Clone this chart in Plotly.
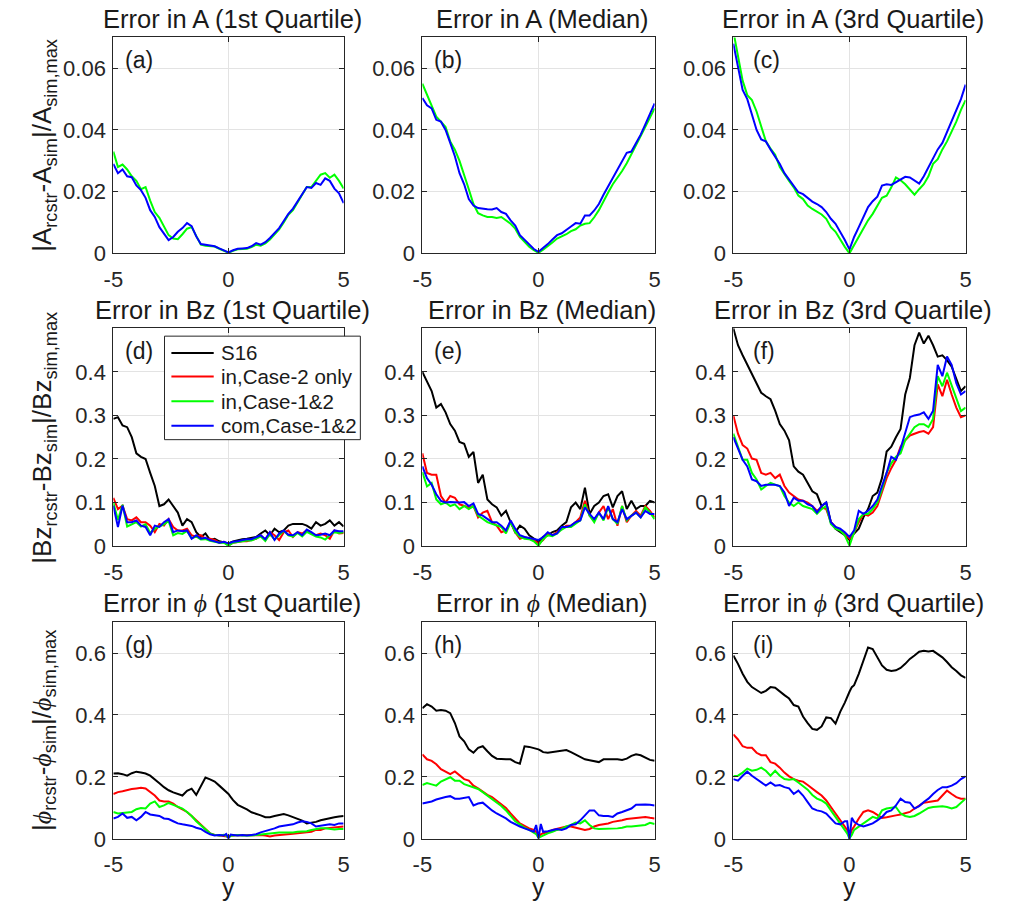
import plotly.graph_objects as go

# ---------------- data ----------------
Y51 = [-5.0, -4.8, -4.6, -4.4, -4.2,
       -4.0, -3.8, -3.6, -3.4, -3.2,
       -3.0, -2.8, -2.6, -2.4, -2.2,
       -2.0, -1.8, -1.6, -1.4, -1.2,
       -1.0, -0.8, -0.6, -0.4, -0.2,
       0.0,
       0.2, 0.4, 0.6, 0.8, 1.0,
       1.2, 1.4, 1.6, 1.8, 2.0,
       2.2, 2.4, 2.6, 2.8, 3.0,
       3.2, 3.4, 3.6, 3.8, 4.0,
       4.2, 4.4, 4.6, 4.8, 5.0]

Y53 = [-5.0, -4.8, -4.6, -4.4, -4.2,
       -4.0, -3.8, -3.6, -3.4, -3.2,
       -3.0, -2.8, -2.6, -2.4, -2.2,
       -2.0, -1.8, -1.6, -1.4, -1.2,
       -1.0, -0.8, -0.6, -0.4, -0.2,
       -0.1, 0.0, 0.1,
       0.2, 0.4, 0.6, 0.8, 1.0,
       1.2, 1.4, 1.6, 1.8, 2.0,
       2.2, 2.4, 2.6, 2.8, 3.0,
       3.2, 3.4, 3.6, 3.8, 4.0,
       4.2, 4.4, 4.6, 4.8, 5.0]

SERIES_NAMES = ["S16", "in,Case-2 only", "in,Case-1&2", "com,Case-1&2"]
SERIES_COLORS = ["#000000", "#ff0000", "#00ff00", "#0000ff"]

# --- Error in A ---
A_Q1_IN12 = [0.033, 0.028, 0.0288, 0.0272, 0.025,
             0.0235, 0.0208, 0.0215, 0.0171, 0.0134,
             0.0115, 0.0085, 0.0059, 0.0048, 0.0046,
             0.0062, 0.008, 0.0085, 0.0055, 0.0028,
             0.0025, 0.0024, 0.0022, 0.0015, 0.0008,
             0.0002,
             0.0008, 0.0013, 0.0014, 0.0015, 0.002,
             0.0028, 0.0025, 0.0032, 0.0045, 0.006,
             0.0078, 0.01, 0.0125, 0.014, 0.0165,
             0.019, 0.0215, 0.0215, 0.0235, 0.0255,
             0.026, 0.0245, 0.0255, 0.0235, 0.021]
A_Q1_COM12 = [0.029, 0.026, 0.0272, 0.025, 0.0247,
              0.022, 0.0205, 0.018, 0.014, 0.0118,
              0.0085, 0.0065, 0.0043, 0.0053, 0.007,
              0.0082, 0.0098, 0.0088, 0.0055, 0.003,
              0.0027, 0.0026, 0.0023, 0.0016, 0.0009,
              0.0003,
              0.001, 0.0015, 0.0016, 0.0017, 0.0023,
              0.0033, 0.0028, 0.0036, 0.005, 0.0065,
              0.0082, 0.0105, 0.0128, 0.0145, 0.0168,
              0.0192, 0.0215, 0.0212, 0.0228, 0.0222,
              0.0243, 0.0235, 0.021, 0.0195, 0.0163]

A_MED_IN12 = [0.055, 0.0513, 0.048, 0.0443, 0.0427,
              0.041, 0.0363, 0.0336, 0.030, 0.025,
              0.0208, 0.016, 0.013, 0.0123, 0.0118,
              0.0118, 0.0115, 0.0118, 0.0107, 0.0096,
              0.008, 0.0053, 0.0037, 0.0021, 0.001,
              0.0002,
              0.0012, 0.0023, 0.0035, 0.0048, 0.0055,
              0.0062, 0.0072, 0.0078, 0.009, 0.0096,
              0.0098, 0.0117, 0.014, 0.017, 0.0197,
              0.0224, 0.0245, 0.0267, 0.0292, 0.032,
              0.035, 0.038, 0.041, 0.0438, 0.047]
A_MED_COM12 = [0.0504, 0.048, 0.047, 0.0433, 0.0427,
               0.040, 0.0358, 0.0315, 0.026, 0.0224,
               0.0176, 0.0155, 0.0147, 0.0144, 0.0143,
               0.0142, 0.0147, 0.0134, 0.0128, 0.0107,
               0.009, 0.0059, 0.0043, 0.0027, 0.0014,
               0.0005,
               0.0017, 0.003, 0.0045, 0.0059, 0.0065,
               0.0075, 0.0087, 0.0098, 0.0096, 0.0123,
               0.0123, 0.0139, 0.016, 0.019, 0.0218,
               0.0246, 0.0272, 0.030, 0.0326, 0.033,
               0.0357, 0.0385, 0.0418, 0.045, 0.0486]

A_Q3_IN12 = [0.072, 0.0636, 0.056, 0.0513, 0.0497,
             0.046, 0.041, 0.0363, 0.034, 0.032,
             0.028, 0.0256, 0.0235, 0.0214, 0.0187,
             0.0176, 0.0155, 0.0144, 0.0134, 0.0126,
             0.0112, 0.0085, 0.007, 0.0043, 0.0021,
             0.0,
             0.0027, 0.0053, 0.008, 0.0107, 0.0128,
             0.0155, 0.018, 0.0187, 0.0214, 0.0246,
             0.0237, 0.0224, 0.0208, 0.019, 0.0208,
             0.0224, 0.025, 0.029, 0.0305, 0.0337,
             0.0363, 0.0395, 0.0427, 0.0465, 0.0497]
A_Q3_COM12 = [0.068, 0.060, 0.053, 0.050, 0.045,
              0.040, 0.0369, 0.0363, 0.0337, 0.0315,
              0.029, 0.026, 0.024, 0.022, 0.0198,
              0.0192, 0.018, 0.0168, 0.016, 0.015,
              0.0134, 0.0112, 0.0096, 0.007, 0.0043,
              0.0013,
              0.0053, 0.0085, 0.0118, 0.015, 0.0169,
              0.0184, 0.022, 0.0224, 0.0222, 0.023,
              0.024, 0.0248, 0.0246, 0.0235, 0.0226,
              0.025, 0.0278, 0.031, 0.0337, 0.0358,
              0.0395, 0.0427, 0.0465, 0.050, 0.0547]

# --- Error in Bz ---
BZ_Q1_S16 = [0.292, 0.296, 0.277, 0.273, 0.25,
             0.213, 0.205, 0.20, 0.168, 0.138,
             0.092, 0.096, 0.107, 0.092, 0.077,
             0.047, 0.062, 0.055, 0.032, 0.021,
             0.029, 0.014, 0.017, 0.011, 0.008,
             0.006,
             0.011, 0.014, 0.016, 0.017, 0.019,
             0.021, 0.029, 0.036, 0.025, 0.04,
             0.032, 0.036, 0.047, 0.051, 0.051,
             0.051, 0.047, 0.04, 0.055, 0.047,
             0.051, 0.059, 0.047, 0.055, 0.045]
BZ_Q1_IN2 = [0.111, 0.085, 0.093, 0.062, 0.059,
             0.066, 0.055, 0.055, 0.047, 0.032,
             0.051, 0.047, 0.062, 0.044, 0.036,
             0.036, 0.04, 0.025, 0.021, 0.025,
             0.017, 0.017, 0.014, 0.008, 0.01,
             0.002,
             0.008, 0.01, 0.011, 0.011, 0.014,
             0.017, 0.025, 0.014, 0.032, 0.025,
             0.014, 0.032, 0.036, 0.021, 0.032,
             0.029, 0.036, 0.029, 0.025, 0.029,
             0.025, 0.017, 0.036, 0.029, 0.03]
BZ_Q1_IN12 = [0.10, 0.06, 0.095, 0.045, 0.05,
              0.055, 0.045, 0.05, 0.03, 0.04,
              0.045, 0.05, 0.058, 0.025, 0.03,
              0.028, 0.035, 0.018, 0.022, 0.015,
              0.016, 0.012, 0.01, 0.008, 0.008,
              0.001,
              0.008, 0.01, 0.011, 0.013, 0.013,
              0.018, 0.022, 0.012, 0.028, 0.015,
              0.025, 0.035, 0.025, 0.022, 0.03,
              0.022, 0.033, 0.028, 0.022, 0.02,
              0.015, 0.025, 0.032, 0.03, 0.032]
BZ_Q1_COM12 = [0.093, 0.044, 0.093, 0.055, 0.055,
               0.059, 0.047, 0.044, 0.025, 0.047,
               0.044, 0.055, 0.062, 0.032, 0.036,
               0.034, 0.036, 0.017, 0.025, 0.017,
               0.019, 0.014, 0.011, 0.008, 0.01,
               0.006,
               0.01, 0.011, 0.014, 0.016, 0.016,
               0.021, 0.025, 0.016, 0.032, 0.014,
               0.029, 0.036, 0.026, 0.025, 0.032,
               0.025, 0.038, 0.032, 0.025, 0.026,
               0.029, 0.025, 0.036, 0.034, 0.034]

BZ_MED_S16 = [0.40, 0.378, 0.356, 0.318, 0.326,
              0.307, 0.28, 0.265, 0.239, 0.235,
              0.205, 0.216, 0.145, 0.164, 0.107,
              0.096, 0.089, 0.07, 0.081, 0.055,
              0.032, 0.047, 0.04, 0.025, 0.017,
              0.01,
              0.021, 0.025, 0.032, 0.036, 0.047,
              0.055, 0.089, 0.10, 0.085, 0.134,
              0.074, 0.092, 0.10, 0.115, 0.119,
              0.089, 0.115, 0.126, 0.085, 0.104,
              0.085, 0.092, 0.092, 0.104, 0.10]
BZ_MED_IN2 = [0.213, 0.168, 0.164, 0.164, 0.115,
              0.10, 0.115, 0.111, 0.096, 0.092,
              0.089, 0.092, 0.066, 0.077, 0.081,
              0.055, 0.047, 0.032, 0.036, 0.055,
              0.032, 0.017, 0.021, 0.017, 0.014,
              0.006,
              0.014, 0.029, 0.025, 0.032, 0.04,
              0.047, 0.047, 0.055, 0.066, 0.104,
              0.07, 0.059, 0.077, 0.092, 0.062,
              0.085, 0.047, 0.092, 0.055, 0.07,
              0.081, 0.07, 0.092, 0.081, 0.066]
BZ_MED_IN12 = [0.17, 0.137, 0.145, 0.107, 0.096,
               0.10, 0.092, 0.096, 0.085, 0.092,
               0.085, 0.092, 0.07, 0.062, 0.055,
               0.051, 0.047, 0.044, 0.029, 0.055,
               0.032, 0.021, 0.017, 0.016, 0.011,
               0.001,
               0.016, 0.025, 0.023, 0.029, 0.038,
               0.044, 0.044, 0.051, 0.059, 0.096,
               0.07, 0.055, 0.077, 0.059, 0.089,
               0.062, 0.051, 0.092, 0.059, 0.07,
               0.077, 0.066, 0.089, 0.077, 0.062]
BZ_MED_COM12 = [0.183, 0.156, 0.141, 0.119, 0.104,
                0.10, 0.101, 0.10, 0.10, 0.101,
                0.092, 0.098, 0.074, 0.07, 0.062,
                0.055, 0.055, 0.047, 0.036, 0.059,
                0.04, 0.025, 0.021, 0.019, 0.016,
                0.014,
                0.021, 0.032, 0.025, 0.029, 0.044,
                0.044, 0.047, 0.055, 0.059, 0.089,
                0.074, 0.062, 0.077, 0.062, 0.092,
                0.062, 0.055, 0.085, 0.062, 0.07,
                0.077, 0.066, 0.081, 0.074, 0.074]

BZ_Q3_S16 = [0.50, 0.461, 0.438, 0.416, 0.394,
             0.371, 0.352, 0.344, 0.337, 0.311,
             0.28, 0.265, 0.243, 0.183, 0.171,
             0.164, 0.145, 0.126, 0.119, 0.092,
             0.10, 0.055, 0.04, 0.032, 0.025,
             0.014,
             0.029, 0.04, 0.066, 0.085, 0.115,
             0.123, 0.156, 0.217, 0.228, 0.25,
             0.269, 0.348, 0.386, 0.461, 0.49,
             0.465, 0.483, 0.461, 0.435, 0.438,
             0.427, 0.412, 0.386, 0.356, 0.367]
BZ_Q3_IN2 = [0.30, 0.258, 0.232, 0.224, 0.201,
             0.198, 0.168, 0.164, 0.168, 0.156,
             0.164, 0.138, 0.123, 0.115, 0.107,
             0.104, 0.10, 0.092, 0.081, 0.089,
             0.085, 0.055, 0.044, 0.036, 0.029,
             0.017,
             0.032, 0.055, 0.074, 0.07, 0.077,
             0.092, 0.123, 0.156, 0.179, 0.198,
             0.228, 0.243, 0.254, 0.258, 0.262,
             0.264, 0.258, 0.273, 0.371, 0.344,
             0.382, 0.348, 0.318, 0.296, 0.30]
BZ_Q3_IN12 = [0.258, 0.228, 0.198, 0.198, 0.168,
              0.153, 0.13, 0.138, 0.145, 0.141,
              0.138, 0.115, 0.10, 0.092, 0.10,
              0.092, 0.089, 0.085, 0.074, 0.085,
              0.092, 0.051, 0.04, 0.036, 0.025,
              0.001,
              0.032, 0.062, 0.074, 0.074, 0.085,
              0.10, 0.13, 0.168, 0.19, 0.205,
              0.213, 0.243, 0.258, 0.273, 0.28,
              0.28, 0.273, 0.292, 0.39, 0.367,
              0.398, 0.367, 0.341, 0.31, 0.318]
BZ_Q3_COM12 = [0.25, 0.224, 0.198, 0.183, 0.153,
               0.149, 0.138, 0.141, 0.141, 0.141,
               0.138, 0.123, 0.092, 0.111, 0.104,
               0.104, 0.096, 0.092, 0.077, 0.092,
               0.10, 0.055, 0.044, 0.04, 0.032,
               0.021,
               0.036, 0.081, 0.074, 0.081, 0.092,
               0.107, 0.138, 0.168, 0.205, 0.198,
               0.224, 0.258, 0.296, 0.30, 0.302,
               0.307, 0.292, 0.311, 0.416, 0.39,
               0.435, 0.416, 0.374, 0.348, 0.356]

# --- Error in phi (53-point grid) ---
PHI_Q1_S16 = [0.211, 0.212, 0.209, 0.204, 0.212,
              0.217, 0.214, 0.211, 0.204, 0.193,
              0.18, 0.167, 0.157, 0.15, 0.145,
              0.14, 0.155, 0.162, 0.142, 0.17,
              0.198, 0.192, 0.185, 0.172, 0.16,
              0.152, 0.145, 0.135,
              0.125, 0.11, 0.103, 0.095, 0.086,
              0.082, 0.076, 0.07, 0.07, 0.074,
              0.076, 0.08, 0.076, 0.07, 0.066,
              0.059, 0.05, 0.052, 0.055, 0.06,
              0.064, 0.067, 0.07, 0.072, 0.074]
PHI_Q1_IN2 = [0.145, 0.151, 0.154, 0.158, 0.161,
              0.163, 0.165, 0.163, 0.151, 0.14,
              0.124, 0.121, 0.121, 0.114, 0.103,
              0.096, 0.087, 0.074, 0.06, 0.045,
              0.032, 0.018, 0.013, 0.011, 0.011,
              0.01, 0.007, 0.01,
              0.011, 0.013, 0.012, 0.013, 0.013,
              0.012, 0.013, 0.011, 0.008, 0.011,
              0.013, 0.015, 0.015, 0.017, 0.018,
              0.02, 0.02, 0.023, 0.029, 0.029,
              0.034, 0.036, 0.036, 0.04, 0.04]
PHI_Q1_IN12 = [0.087, 0.082, 0.084, 0.085, 0.087,
               0.096, 0.10, 0.098, 0.114, 0.121,
               0.103, 0.108, 0.116, 0.11, 0.103,
               0.098, 0.087, 0.074, 0.057, 0.045,
               0.032, 0.018, 0.013, 0.011, 0.013,
               0.01, 0.004, 0.01,
               0.011, 0.013, 0.011, 0.01, 0.011,
               0.013, 0.015, 0.016, 0.018, 0.02,
               0.021, 0.021, 0.02, 0.021, 0.023,
               0.023, 0.025, 0.029, 0.032, 0.034,
               0.034, 0.032, 0.03, 0.032, 0.032]
PHI_Q1_COM12 = [0.066, 0.071, 0.082, 0.068, 0.071,
                0.06, 0.071, 0.087, 0.079, 0.076,
                0.074, 0.066, 0.064, 0.057, 0.05,
                0.047, 0.045, 0.042, 0.036, 0.032,
                0.023, 0.015, 0.011, 0.013, 0.011,
                0.016, 0.002, 0.014,
                0.013, 0.011, 0.013, 0.011, 0.013,
                0.015, 0.021, 0.025, 0.029, 0.034,
                0.04, 0.042, 0.045, 0.047, 0.053,
                0.057, 0.055, 0.05, 0.04, 0.042,
                0.045, 0.047, 0.045, 0.05, 0.05]

PHI_MED_S16 = [0.422, 0.435, 0.427, 0.414, 0.416,
               0.414, 0.406, 0.374, 0.331, 0.315,
               0.289, 0.278, 0.294, 0.299, 0.283,
               0.268, 0.259, 0.257, 0.257, 0.257,
               0.248, 0.243, 0.299, 0.297, 0.294,
               0.291, 0.289, 0.285,
               0.28, 0.278, 0.28, 0.283, 0.283,
               0.287, 0.28, 0.273, 0.265, 0.257,
               0.254, 0.252, 0.248, 0.257, 0.257,
               0.259, 0.257, 0.255, 0.259, 0.268,
               0.273, 0.27, 0.262, 0.255, 0.252]
PHI_MED_IN2 = [0.273, 0.257, 0.252, 0.241, 0.225,
               0.217, 0.209, 0.218, 0.204, 0.193,
               0.188, 0.172, 0.163, 0.151, 0.142,
               0.135, 0.124, 0.11, 0.10, 0.082,
               0.066, 0.05, 0.042, 0.034, 0.029,
               0.022, 0.004, 0.015,
               0.018, 0.021, 0.029, 0.032, 0.036,
               0.04, 0.04, 0.036, 0.032, 0.029,
               0.032, 0.04, 0.045, 0.047, 0.05,
               0.055, 0.057, 0.06, 0.064, 0.066,
               0.069, 0.071, 0.071, 0.068, 0.066]
PHI_MED_IN12 = [0.174, 0.18, 0.176, 0.172, 0.185,
                0.193, 0.199, 0.188, 0.188, 0.177,
                0.172, 0.167, 0.161, 0.151, 0.14,
                0.13, 0.119, 0.106, 0.092, 0.074,
                0.057, 0.047, 0.036, 0.029, 0.021,
                0.015, 0.004, 0.008,
                0.011, 0.018, 0.023, 0.029, 0.032,
                0.04, 0.045, 0.053, 0.05, 0.06,
                0.045, 0.034, 0.032, 0.032, 0.032,
                0.034, 0.034, 0.036, 0.04, 0.04,
                0.042, 0.045, 0.045, 0.052, 0.048]
PHI_MED_COM12 = [0.114, 0.117, 0.121, 0.127, 0.132,
                 0.135, 0.138, 0.13, 0.13, 0.132,
                 0.135, 0.108, 0.114, 0.117, 0.103,
                 0.092, 0.082, 0.074, 0.066, 0.055,
                 0.047, 0.04, 0.034, 0.029, 0.023,
                 0.045, 0.002, 0.048,
                 0.023, 0.025, 0.029, 0.032, 0.029,
                 0.034, 0.045, 0.047, 0.06, 0.076,
                 0.092, 0.092, 0.076, 0.074, 0.074,
                 0.071, 0.082, 0.087, 0.092, 0.098,
                 0.11, 0.111, 0.111, 0.11, 0.108]

PHI_Q3_S16 = [0.592, 0.565, 0.533, 0.507, 0.49,
              0.48, 0.471, 0.478, 0.49, 0.488,
              0.475, 0.464, 0.453, 0.432, 0.427,
              0.395, 0.374, 0.355, 0.352, 0.363,
              0.392, 0.39, 0.372, 0.41, 0.44,
              0.46, 0.475, 0.49,
              0.496, 0.533, 0.575, 0.618, 0.613,
              0.586, 0.56, 0.546, 0.542, 0.544,
              0.552, 0.565, 0.581, 0.592, 0.604,
              0.607, 0.605, 0.607, 0.597, 0.586,
              0.571, 0.554, 0.542, 0.528, 0.52]
PHI_Q3_IN2 = [0.337, 0.321, 0.299, 0.294, 0.294,
              0.278, 0.27, 0.27, 0.248, 0.243,
              0.23, 0.214, 0.202, 0.193, 0.188,
              0.185, 0.174, 0.161, 0.151, 0.14,
              0.124, 0.103, 0.082, 0.06, 0.039,
              0.029, 0.002, 0.029,
              0.04, 0.066, 0.087, 0.092, 0.087,
              0.076, 0.068, 0.07, 0.074, 0.076,
              0.079, 0.082, 0.087, 0.098, 0.108,
              0.117, 0.119, 0.121, 0.124, 0.14,
              0.156, 0.145, 0.135, 0.13, 0.13]
PHI_Q3_IN12 = [0.202, 0.204, 0.214, 0.227, 0.22,
               0.223, 0.23, 0.22, 0.204, 0.22,
               0.204, 0.193, 0.191, 0.193, 0.182,
               0.17, 0.159, 0.142, 0.13, 0.124,
               0.114, 0.092, 0.071, 0.05, 0.029,
               0.018, 0.002, 0.013,
               0.029, 0.04, 0.05, 0.06, 0.071,
               0.066, 0.092, 0.098, 0.10, 0.103,
               0.082, 0.074, 0.071, 0.074, 0.082,
               0.092, 0.10, 0.103, 0.105, 0.105,
               0.103, 0.098, 0.103, 0.117, 0.13]
PHI_Q3_COM12 = [0.193, 0.188, 0.204, 0.217, 0.204,
                0.193, 0.18, 0.172, 0.182, 0.172,
                0.174, 0.167, 0.163, 0.145, 0.156,
                0.14, 0.119, 0.098, 0.092, 0.089,
                0.082, 0.066, 0.05, 0.047, 0.057,
                0.057, 0.0, 0.068,
                0.055, 0.045, 0.04, 0.045, 0.05,
                0.06, 0.071, 0.087, 0.092, 0.108,
                0.13, 0.119, 0.117, 0.098, 0.106,
                0.119, 0.13, 0.145, 0.158, 0.167,
                0.167, 0.172, 0.18, 0.193, 0.202]

X_TICKS = [-5, 0, 5]
X_TICK_TEXT = ["-5", "0", "5"]
ROW_YMAX = [0.07, 0.5, 0.7]
ROW_YTICKS = [[0, 0.02, 0.04, 0.06], [0, 0.1, 0.2, 0.3, 0.4], [0, 0.2, 0.4, 0.6]]
ROW_YTICK_TEXT = [["0", "0.02", "0.04", "0.06"], ["0", "0.1", "0.2", "0.3", "0.4"],
                  ["0", "0.2", "0.4", "0.6"]]

PHI = "<span style=\"font-family:'Liberation Serif'\"><i>ϕ</i></span>"
ROW_YLABELS = [
    "|A<sub>rcstr</sub>-A<sub>sim</sub>|/A<sub>sim,max</sub>",
    "|Bz<sub>rcstr</sub>-Bz<sub>sim</sub>|/Bz<sub>sim,max</sub>",
    "|" + PHI + "<sub>rcstr</sub>-" + PHI + "<sub>sim</sub>|/" + PHI + "<sub>sim,max</sub>",
]
QUANTITY = ["A", "Bz", PHI]
STATS = ["1st Quartile", "Median", "3rd Quartile"]
LABELS = ["(a)", "(b)", "(c)", "(d)", "(e)", "(f)", "(g)", "(h)", "(i)"]

PANEL_SERIES = [
    (Y51, [None, None, A_Q1_IN12, A_Q1_COM12]),
    (Y51, [None, None, A_MED_IN12, A_MED_COM12]),
    (Y51, [None, None, A_Q3_IN12, A_Q3_COM12]),
    (Y51, [BZ_Q1_S16, BZ_Q1_IN2, BZ_Q1_IN12, BZ_Q1_COM12]),
    (Y51, [BZ_MED_S16, BZ_MED_IN2, BZ_MED_IN12, BZ_MED_COM12]),
    (Y51, [BZ_Q3_S16, BZ_Q3_IN2, BZ_Q3_IN12, BZ_Q3_COM12]),
    (Y53, [PHI_Q1_S16, PHI_Q1_IN2, PHI_Q1_IN12, PHI_Q1_COM12]),
    (Y53, [PHI_MED_S16, PHI_MED_IN2, PHI_MED_IN12, PHI_MED_COM12]),
    (Y53, [PHI_Q3_S16, PHI_Q3_IN2, PHI_Q3_IN12, PHI_Q3_COM12]),
]

for xs, ser in PANEL_SERIES:
    for s in ser:
        if s is not None and len(s) != len(xs):
            raise ValueError("length mismatch %d vs %d" % (len(s), len(xs)))

# ---------------- layout (pixels) ----------------
W, H = 1009, 915
COL_PX = [(105, 339), (419, 655), (735, 971)]
ROW_PX = [(38, 257), (333, 554), (631, 851)]
LABEL_DX = [10, 10, 18]
FONT = "Liberation Sans, Arial, sans-serif"
AX_COLOR = "#262626"
TXT = "#1a1a1a"

# legend box (pixels) drawn inside panel (d)
LEG_BOX = (157, 341, 356, 446)
LEG_LINE_X = (164, 207)
LEG_ROW_Y = [358, 382, 407, 432]
LEG_TEXT_X = 212

fig = go.Figure()
layout = dict(
    width=W, height=H, margin=dict(l=0, r=0, t=0, b=0),
    paper_bgcolor="white", plot_bgcolor="white",
    font=dict(family=FONT, size=22, color=AX_COLOR),
    showlegend=False,
)
annotations = []
shapes = []

for k in range(9):
    r, c = divmod(k, 3)
    x0, x1 = COL_PX[c]
    top, bot = ROW_PX[r]
    xa = "xaxis" if k == 0 else "xaxis%d" % (k + 1)
    ya = "yaxis" if k == 0 else "yaxis%d" % (k + 1)
    xr = "x" if k == 0 else "x%d" % (k + 1)
    yr = "y" if k == 0 else "y%d" % (k + 1)
    common = dict(showline=True, linecolor=AX_COLOR, linewidth=1, mirror="ticks",
                  ticks="inside", ticklen=5, tickcolor=AX_COLOR, tickwidth=1,
                  showgrid=True, gridcolor="#e3e3e3", gridwidth=1, zeroline=False,
                  tickfont=dict(family=FONT, size=22, color=AX_COLOR))
    layout[xa] = dict(domain=[x0 / W, x1 / W], range=[-5, 5], tickvals=X_TICKS,
                      ticktext=X_TICK_TEXT, anchor=yr, ticklabelstandoff=6, **common)
    layout[ya] = dict(domain=[1 - bot / H, 1 - top / H], range=[0, ROW_YMAX[r]],
                      tickvals=ROW_YTICKS[r], ticktext=ROW_YTICK_TEXT[r], anchor=xr,
                      ticklabelstandoff=2, **common)

    xs, ser = PANEL_SERIES[k]
    for i, vals in enumerate(ser):
        if vals is None:
            continue
        fig.add_trace(go.Scatter(x=xs, y=vals, mode="lines", name=SERIES_NAMES[i],
                                 line=dict(color=SERIES_COLORS[i], width=2),
                                 xaxis=xr, yaxis=yr))

    # title
    annotations.append(dict(text="Error in %s (%s)" % (QUANTITY[r], STATS[c]),
                            xref="paper", yref="paper",
                            x=((x0 + x1) / 2 + 4) / W, y=1 - (top - 19) / H,
                            xanchor="center", yanchor="middle", showarrow=False,
                            font=dict(family=FONT, size=25.5, color=TXT)))
    # panel label
    annotations.append(dict(text=LABELS[k], xref="paper", yref="paper",
                            x=(x0 + LABEL_DX[c]) / W, y=1 - (top + 23) / H,
                            xanchor="left", yanchor="middle", showarrow=False,
                            font=dict(family=FONT, size=23, color=TXT)))
    if c == 0:
        annotations.append(dict(text=ROW_YLABELS[r], xref="paper", yref="paper",
                                x=34 / W, y=1 - ((top + bot) / 2) / H, textangle=-90,
                                xanchor="center", yanchor="middle", showarrow=False,
                                font=dict(family=FONT, size=26, color=TXT)))
    if r == 2:
        annotations.append(dict(text="y", xref="paper", yref="paper",
                                x=((x0 + x1) / 2) / W, y=1 - 884 / H,
                                xanchor="center", yanchor="top", showarrow=False,
                                font=dict(family=FONT, size=25, color=TXT)))

# legend (drawn as a boxed key inside panel (d))
shapes.append(dict(type="rect", xref="paper", yref="paper", layer="above",
                   x0=LEG_BOX[0] / W, x1=LEG_BOX[2] / W,
                   y0=1 - LEG_BOX[3] / H, y1=1 - LEG_BOX[1] / H,
                   line=dict(color=AX_COLOR, width=1), fillcolor="white"))
for i, name in enumerate(SERIES_NAMES):
    yy = 1 - LEG_ROW_Y[i] / H
    shapes.append(dict(type="line", xref="paper", yref="paper", layer="above",
                       x0=LEG_LINE_X[0] / W, x1=LEG_LINE_X[1] / W, y0=yy, y1=yy,
                       line=dict(color=SERIES_COLORS[i], width=2)))
    annotations.append(dict(text=name, xref="paper", yref="paper",
                            x=LEG_TEXT_X / W, y=yy, xanchor="left", yanchor="middle",
                            showarrow=False, font=dict(family=FONT, size=20.5, color=TXT)))

layout["annotations"] = annotations
layout["shapes"] = shapes
fig.update_layout(**layout)
fig.write_html("out.html")
